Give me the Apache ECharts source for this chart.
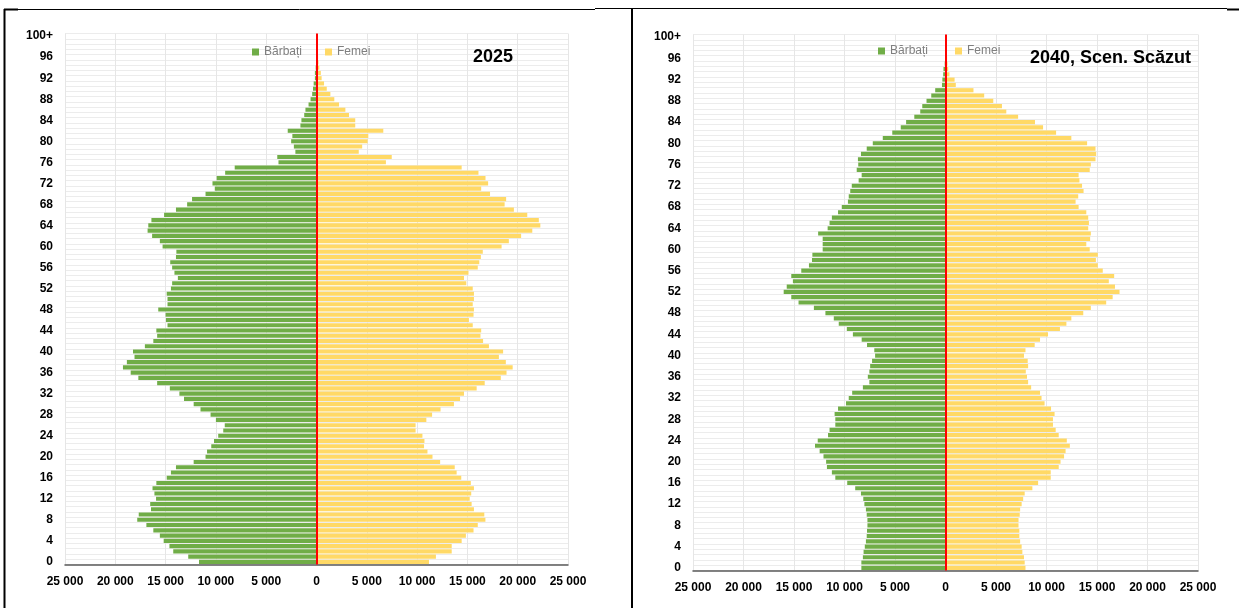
<!DOCTYPE html>
<html>
<head>
<meta charset="utf-8">
<script src="https://cdn.jsdelivr.net/npm/echarts@6/dist/echarts.min.js"></script>
<style>
html,body{margin:0;padding:0;background:#fff;}
#chart{width:1239px;height:608px;}
</style>
</head>
<body>
<div id="chart"></div>
<script>
// Age categories 0..99, 100+
const ages = [];
for (let i = 0; i < 100; i++) ages.push(String(i));
ages.push('100+');

const seriesNames = ['Bărbați', 'Femei'];
const titles = ['2025', '2040, Scen. Scăzut'];
const xTicks = [-25000, 25000, 5000];

// 2025 — men (ages 0..100+)
const men2025 = [
11680,12750,14240,14620,15190,15570,16220,16910,17820,17670,
16450,16530,15950,16110,16300,15920,14890,14470,13970,12210,
11030,10880,10460,10190,9770,9270,9120,10000,10530,11530,
12210,13170,13630,14580,15840,17710,18470,19240,18850,18090,
18240,17060,16220,15840,15920,14810,14960,15000,15730,14810,
14810,14890,14470,14350,13780,14120,14350,14540,13970,13930,
15300,15570,16340,16790,16720,16410,15150,13970,12860,12370,
11030,10110,10340,9920,9080,8130,3780,3900,2100,2250,
2520,2400,2860,1600,1500,1220,1100,790,590,430,
350,280,160,160,80,50,30,20,10,0,
0];
// 2025 — women
const women2025 = [
11180,11870,13440,13440,14430,14850,15610,16030,16790,16680,
15650,15420,15230,15380,15650,15340,14390,13930,13740,12290,
11530,11030,10690,10730,10530,9850,9850,10920,11490,12330,
13660,14270,14660,15920,16720,18320,18890,19500,18820,18130,
18550,17140,16560,16300,16370,15530,15150,15610,15650,15530,
15650,15650,15530,14890,14660,15110,16030,16180,16340,16530,
18400,19120,20340,21450,22250,22100,20950,19620,18700,18850,
17250,16370,17060,16800,16100,14430,6900,7480,4200,4540,
5080,5150,6640,3850,3850,3230,2870,2240,1770,1380,
1020,750,510,430,280,200,160,100,40,20,
10];
// 2040 low scenario — men
const men2040 = [
8330,8330,8180,8110,7990,7880,7800,7770,7730,7730,
7800,7880,8030,8140,8370,8940,9730,10910,11250,11740,
11820,12080,12460,12920,12650,11630,11480,10910,10910,10980,
10640,9850,9580,9240,8180,7540,7690,7540,7460,7270,
6970,7050,7770,8300,9170,9770,10570,11060,11890,13030,
14550,15270,16020,15720,15110,15270,14280,13520,13220,13180,
12160,12160,12160,12610,11670,11480,11250,10640,10270,9660,
9580,9430,9280,8600,8300,8790,8640,8670,8370,7800,
7200,6210,5270,4430,3900,3090,2500,2300,1880,1410,
1020,350,310,230,200,80,40,20,10,0,
0];
// 2040 low scenario — women
const women2040 = [
7920,7840,7770,7610,7540,7390,7310,7310,7230,7230,
7350,7390,7540,7690,7840,8600,9170,10420,10420,11210,
11390,11740,11890,12310,12010,11210,10910,10640,10640,10800,
10450,9810,9510,9360,8480,8180,8070,7950,8180,8140,
7770,7920,8830,9360,10150,11330,11970,12460,13640,14390,
15910,16550,17230,16780,16170,16700,15570,15080,14890,15080,
14280,13940,14320,14390,14130,14200,14130,13940,13180,12880,
13140,13670,13520,13260,13180,14280,14390,14850,14920,14850,
14020,12460,10950,9660,8860,7190,6020,5590,4730,3830,
2770,1020,900,390,270,200,160,120,60,30,
10];

const FONT = 'Liberation Sans, Arial, sans-serif';
const GREEN = '#70AD47', YELLOW = '#FFD966';

function fmt(v){
  const a = Math.abs(v);
  return String(a).replace(/\B(?=(\d{3})+(?!\d))/g, ' ');
}

function xAxisDef(gi){
  return {
    type:'value', gridIndex:gi, min:xTicks[0], max:xTicks[1], interval:xTicks[2],
    axisLine:{show:true, lineStyle:{color:'#595959', width:1.5}},
    axisTick:{show:false},
    splitLine:{show:true, lineStyle:{color:'#e6e6e6', width:1}},
    axisLabel:{formatter:fmt, color:'#000', fontWeight:'bold', fontSize:12, fontFamily:FONT, margin:11}
  };
}
function yAxisDef(gi){
  return {
    type:'category', gridIndex:gi, data:ages, boundaryGap:true,
    axisLine:{show:false}, axisTick:{show:false},
    splitLine:{show:true, interval:0, lineStyle:{color:'#ececec', width:1}},
    axisLabel:{interval:3, color:'#000', fontWeight:'bold', fontSize:12, fontFamily:FONT, margin:12}
  };
}
function bars(gi, men, women){
  return [
    {name:seriesNames[0], type:'bar', xAxisIndex:gi, yAxisIndex:gi,
     data:men.map(v=>-v), itemStyle:{color:GREEN}, barGap:'-100%', barCategoryGap:'22%', silent:true},
    {name:seriesNames[1], type:'bar', xAxisIndex:gi, yAxisIndex:gi,
     data:women, itemStyle:{color:YELLOW}, barGap:'-100%', barCategoryGap:'22%', silent:true,
     markLine:{silent:true, symbol:'none', label:{show:false},
       lineStyle:{color:'#ff0000', width:2, type:'solid'}, data:[{xAxis:0}], animation:false}}
  ];
}

const chart = echarts.init(document.getElementById('chart'), null, {renderer:'canvas'});
chart.setOption({
  backgroundColor:'#ffffff',
  animation:false,
  title:[
    {text:titles[0], left:473, top:48, padding:0, textStyle:{fontFamily:FONT, fontSize:18, fontWeight:'bold', color:'#000'}},
    {text:titles[1], left:1030, top:49, padding:0, textStyle:{fontFamily:FONT, fontSize:18, fontWeight:'bold', color:'#000'}}
  ],
  legend:[
    {data:seriesNames, left:252, top:46, padding:0, icon:'rect', itemWidth:7, itemHeight:7, itemGap:23,
     textStyle:{color:'#7f7f7f', fontSize:12, fontFamily:FONT}, selectedMode:false},
    {data:seriesNames, left:878, top:45, padding:0, icon:'rect', itemWidth:7, itemHeight:7, itemGap:27,
     textStyle:{color:'#7f7f7f', fontSize:12, fontFamily:FONT}, selectedMode:false}
  ],
  grid:[
    {left:65, top:33.5, width:503, height:531},
    {left:693, top:34.5, width:505, height:536}
  ],
  xAxis:[xAxisDef(0), xAxisDef(1)],
  yAxis:[yAxisDef(0), yAxisDef(1)],
  series:[...bars(0, men2025, women2025), ...bars(1, men2040, women2040)],
  graphic:[
    {type:'line', shape:{x1:4.5, y1:9, x2:4.5, y2:608}, style:{stroke:'#000', lineWidth:2}},
    {type:'line', shape:{x1:632, y1:9, x2:632, y2:608}, style:{stroke:'#000', lineWidth:2}},
    {type:'line', shape:{x1:4, y1:9.5, x2:595, y2:9.5}, style:{stroke:'#000', lineWidth:1}},
    {type:'line', shape:{x1:4, y1:9.5, x2:18, y2:9.5}, style:{stroke:'#000', lineWidth:2}},
    {type:'line', shape:{x1:595, y1:8.5, x2:1227, y2:8.5}, style:{stroke:'#000', lineWidth:1.2}},
    {type:'line', shape:{x1:1227, y1:9.5, x2:1239, y2:9.5}, style:{stroke:'#000', lineWidth:2}}
  ]
});
</script>
</body>
</html>
